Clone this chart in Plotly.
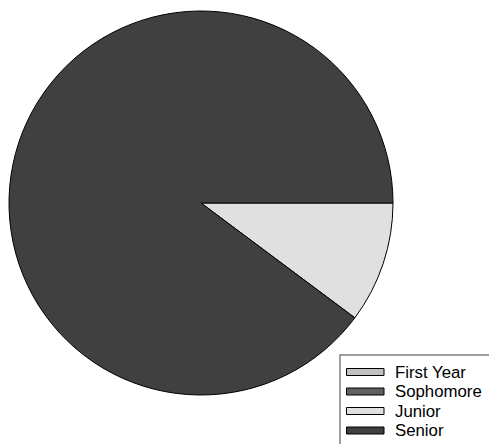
import plotly.graph_objects as go

categories = ["First Year", "Sophomore", "Junior", "Senior"]
values = [0, 0, 5, 44]
colors = ["#c0c0c0", "#606060", "#e0e0e0", "#404040"]

W, H = 489, 444

def px(x):
    return x / W

def py(y):
    return 1 - y / H

fig = go.Figure()
fig.add_trace(go.Pie(
    labels=categories,
    values=values,
    marker=dict(colors=colors, line=dict(color="#000000", width=1)),
    sort=False,
    direction="clockwise",
    rotation=90,
    textinfo="none",
    hoverinfo="label+value",
    showlegend=False,
    domain=dict(x=[px(9), px(393)], y=[py(395), py(11)]),
))

shapes = [dict(type="rect", xref="paper", yref="paper",
               x0=px(340), x1=px(492), y0=py(447), y1=py(355),
               line=dict(color="#808080", width=1.5), fillcolor="white", layer="above")]
annotations = []
row_y = [372, 391.5, 411, 430.5]
for cat, col, yc in zip(categories, colors, row_y):
    shapes.append(dict(type="rect", xref="paper", yref="paper",
                       x0=px(346.5), x1=px(384), y0=py(yc + 3.5), y1=py(yc - 3.5),
                       line=dict(color="#000000", width=1), fillcolor=col, layer="above"))
    annotations.append(dict(xref="paper", yref="paper", x=px(393), y=py(yc),
                            xanchor="left", yanchor="middle", showarrow=False,
                            text=cat, font=dict(family="Liberation Sans, Arial", size=16.8, color="#000000")))

fig.update_layout(
    width=W, height=H,
    margin=dict(l=0, r=0, t=0, b=0),
    paper_bgcolor="white", plot_bgcolor="white",
    shapes=shapes, annotations=annotations,
)

fig.write_html("out.html")
